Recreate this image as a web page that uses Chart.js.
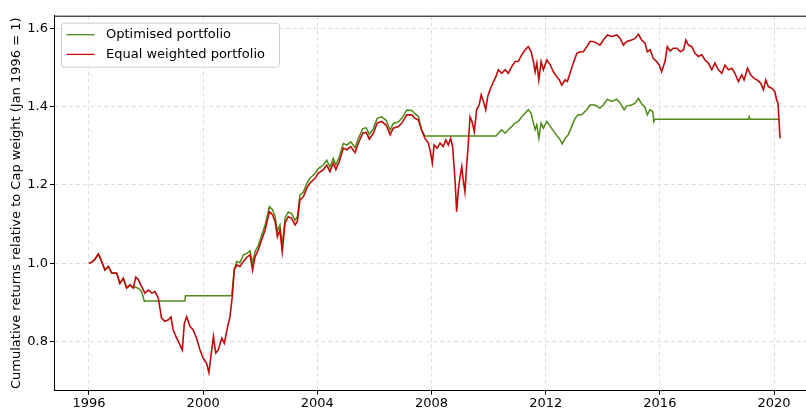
<!DOCTYPE html>
<html lang="en">
<head>
  <meta charset="UTF-8">
  <title>Cumulative returns relative to Cap weight</title>
  <script src="https://cdn.jsdelivr.net/npm/chart.js"></script>
  <style>
    body { margin: 0; padding: 0; background: #fff; }
    #wrap { width: 806px; height: 409px; position: relative; }
  </style>
</head>
<body>
  <div id="wrap"><canvas id="returnsChart"></canvas></div>
  <script>
    // Equal weighted portfolio (year, value)
    const equalYears = [1996.00, 1996.10, 1996.20, 1996.33, 1996.44, 1996.56, 1996.68, 1996.80, 1996.97, 1997.08, 1997.20, 1997.32, 1997.44, 1997.55, 1997.64, 1997.73, 1997.84, 1997.96, 1998.08, 1998.20, 1998.31, 1998.43, 1998.54, 1998.66, 1998.78, 1998.87, 1998.95, 1999.07, 1999.19, 1999.27, 1999.34, 1999.42, 1999.54, 1999.65, 1999.77, 1999.89, 2000.00, 2000.12, 2000.20, 2000.27, 2000.36, 2000.44, 2000.53, 2000.65, 2000.74, 2000.86, 2000.94, 2001.02, 2001.09, 2001.18, 2001.29, 2001.41, 2001.52, 2001.64, 2001.73, 2001.82, 2001.93, 2002.05, 2002.17, 2002.32, 2002.43, 2002.52, 2002.60, 2002.69, 2002.77, 2002.87, 2002.98, 2003.10, 2003.22, 2003.30, 2003.39, 2003.51, 2003.63, 2003.74, 2003.92, 2004.03, 2004.21, 2004.33, 2004.44, 2004.56, 2004.65, 2004.77, 2004.91, 2005.03, 2005.17, 2005.32, 2005.44, 2005.59, 2005.71, 2005.82, 2005.96, 2006.10, 2006.25, 2006.41, 2006.55, 2006.66, 2006.84, 2006.96, 2007.13, 2007.31, 2007.42, 2007.54, 2007.65, 2007.77, 2007.89, 2007.97, 2008.03, 2008.09, 2008.20, 2008.30, 2008.41, 2008.50, 2008.59, 2008.67, 2008.74, 2008.79, 2008.83, 2008.88, 2008.94, 2009.00, 2009.06, 2009.11, 2009.17, 2009.23, 2009.29, 2009.35, 2009.42, 2009.50, 2009.58, 2009.67, 2009.74, 2009.82, 2009.90, 2009.97, 2010.05, 2010.17, 2010.26, 2010.34, 2010.46, 2010.58, 2010.69, 2010.81, 2010.93, 2011.04, 2011.16, 2011.28, 2011.39, 2011.49, 2011.57, 2011.63, 2011.69, 2011.76, 2011.84, 2011.92, 2012.04, 2012.15, 2012.27, 2012.39, 2012.48, 2012.56, 2012.68, 2012.76, 2012.85, 2012.97, 2013.09, 2013.20, 2013.32, 2013.44, 2013.55, 2013.67, 2013.79, 2013.90, 2014.02, 2014.16, 2014.31, 2014.49, 2014.61, 2014.72, 2014.84, 2015.01, 2015.13, 2015.25, 2015.36, 2015.48, 2015.56, 2015.66, 2015.77, 2015.89, 2015.98, 2016.06, 2016.18, 2016.26, 2016.36, 2016.47, 2016.60, 2016.72, 2016.83, 2016.91, 2017.00, 2017.12, 2017.23, 2017.35, 2017.47, 2017.58, 2017.70, 2017.82, 2017.93, 2018.05, 2018.17, 2018.28, 2018.40, 2018.52, 2018.63, 2018.75, 2018.87, 2018.95, 2019.07, 2019.18, 2019.30, 2019.41, 2019.53, 2019.63, 2019.71, 2019.80, 2019.92, 2020.03, 2020.09, 2020.14, 2020.21];
    const equalValues = [1.000, 1.003, 1.010, 1.024, 1.005, 0.983, 0.992, 0.975, 0.975, 0.949, 0.962, 0.937, 0.945, 0.937, 0.965, 0.958, 0.941, 0.924, 0.932, 0.924, 0.928, 0.911, 0.860, 0.852, 0.856, 0.863, 0.830, 0.809, 0.792, 0.779, 0.847, 0.864, 0.839, 0.830, 0.809, 0.779, 0.758, 0.745, 0.721, 0.762, 0.813, 0.771, 0.779, 0.809, 0.796, 0.839, 0.864, 0.915, 0.983, 0.996, 0.992, 1.005, 1.015, 1.022, 0.983, 1.017, 1.034, 1.060, 1.085, 1.132, 1.124, 1.107, 1.068, 1.085, 1.030, 1.103, 1.119, 1.115, 1.098, 1.107, 1.162, 1.170, 1.192, 1.205, 1.217, 1.230, 1.239, 1.251, 1.234, 1.256, 1.239, 1.260, 1.294, 1.290, 1.298, 1.283, 1.307, 1.332, 1.334, 1.317, 1.332, 1.358, 1.362, 1.353, 1.328, 1.345, 1.349, 1.358, 1.379, 1.379, 1.370, 1.366, 1.341, 1.319, 1.307, 1.281, 1.256, 1.302, 1.294, 1.307, 1.298, 1.315, 1.302, 1.319, 1.298, 1.247, 1.205, 1.132, 1.188, 1.221, 1.247, 1.213, 1.183, 1.247, 1.307, 1.374, 1.362, 1.336, 1.392, 1.404, 1.430, 1.413, 1.392, 1.426, 1.443, 1.464, 1.477, 1.494, 1.485, 1.494, 1.485, 1.502, 1.515, 1.515, 1.532, 1.545, 1.553, 1.540, 1.515, 1.489, 1.511, 1.468, 1.515, 1.494, 1.519, 1.508, 1.489, 1.476, 1.468, 1.455, 1.468, 1.464, 1.485, 1.511, 1.536, 1.540, 1.540, 1.553, 1.566, 1.566, 1.562, 1.557, 1.570, 1.583, 1.579, 1.583, 1.574, 1.557, 1.566, 1.570, 1.574, 1.585, 1.570, 1.562, 1.540, 1.545, 1.523, 1.515, 1.506, 1.489, 1.515, 1.553, 1.542, 1.549, 1.549, 1.540, 1.545, 1.570, 1.557, 1.553, 1.536, 1.528, 1.532, 1.519, 1.511, 1.494, 1.511, 1.494, 1.485, 1.506, 1.494, 1.498, 1.485, 1.464, 1.481, 1.468, 1.498, 1.481, 1.472, 1.468, 1.460, 1.443, 1.468, 1.451, 1.447, 1.438, 1.417, 1.409, 1.319];

    // Optimised portfolio (year, value)
    const optYears = [1996.00, 1996.10, 1996.20, 1996.33, 1996.44, 1996.56, 1996.68, 1996.80, 1996.97, 1997.08, 1997.20, 1997.32, 1997.44, 1997.55, 1997.60, 1997.70, 1997.80, 1997.86, 1997.94, 1997.97, 1999.36, 1999.38, 2001.00, 2001.09, 2001.18, 2001.29, 2001.41, 2001.52, 2001.64, 2001.73, 2001.82, 2001.93, 2002.05, 2002.17, 2002.32, 2002.43, 2002.52, 2002.60, 2002.69, 2002.77, 2002.87, 2002.98, 2003.10, 2003.22, 2003.30, 2003.39, 2003.51, 2003.63, 2003.74, 2003.92, 2004.03, 2004.21, 2004.33, 2004.44, 2004.56, 2004.65, 2004.77, 2004.91, 2005.03, 2005.17, 2005.32, 2005.44, 2005.59, 2005.71, 2005.82, 2005.96, 2006.10, 2006.25, 2006.41, 2006.55, 2006.66, 2006.84, 2006.96, 2007.13, 2007.31, 2007.42, 2007.54, 2007.65, 2007.77, 2010.26, 2010.34, 2010.46, 2010.58, 2010.69, 2010.81, 2010.93, 2011.04, 2011.16, 2011.28, 2011.39, 2011.49, 2011.57, 2011.63, 2011.69, 2011.76, 2011.84, 2011.92, 2012.04, 2012.15, 2012.27, 2012.39, 2012.48, 2012.58, 2012.68, 2012.79, 2012.91, 2013.03, 2013.14, 2013.26, 2013.44, 2013.55, 2013.73, 2013.90, 2014.02, 2014.16, 2014.31, 2014.49, 2014.61, 2014.75, 2014.84, 2015.01, 2015.13, 2015.25, 2015.36, 2015.48, 2015.56, 2015.66, 2015.75, 2015.79, 2015.82, 2019.10, 2019.13, 2019.16, 2020.19];
    const optValues = [1.000, 1.003, 1.010, 1.024, 1.005, 0.983, 0.992, 0.975, 0.975, 0.949, 0.962, 0.937, 0.945, 0.937, 0.940, 0.937, 0.932, 0.924, 0.903, 0.904, 0.904, 0.917, 0.917, 0.985, 1.005, 1.002, 1.022, 1.025, 1.032, 1.000, 1.030, 1.045, 1.072, 1.097, 1.145, 1.137, 1.120, 1.082, 1.098, 1.045, 1.116, 1.131, 1.127, 1.110, 1.119, 1.174, 1.182, 1.204, 1.217, 1.229, 1.242, 1.251, 1.263, 1.246, 1.268, 1.251, 1.272, 1.306, 1.302, 1.310, 1.295, 1.319, 1.344, 1.346, 1.329, 1.344, 1.370, 1.374, 1.365, 1.340, 1.357, 1.361, 1.370, 1.391, 1.390, 1.382, 1.375, 1.340, 1.325, 1.325, 1.332, 1.341, 1.332, 1.341, 1.349, 1.358, 1.362, 1.374, 1.383, 1.392, 1.383, 1.358, 1.341, 1.354, 1.319, 1.358, 1.345, 1.362, 1.351, 1.338, 1.326, 1.318, 1.305, 1.319, 1.328, 1.349, 1.370, 1.379, 1.379, 1.392, 1.404, 1.404, 1.396, 1.404, 1.419, 1.413, 1.419, 1.409, 1.392, 1.402, 1.404, 1.409, 1.421, 1.407, 1.398, 1.379, 1.392, 1.387, 1.362, 1.368, 1.368, 1.374, 1.368, 1.368];

    const xTicks = [1996, 2000, 2004, 2008, 2012, 2016, 2020];
    const yTicks = [0.8, 1.0, 1.2, 1.4, 1.6];
    const seriesNames = ['Optimised portfolio', 'Equal weighted portfolio'];
    const seriesColors = ['#4f8a17', '#c20a0a'];

    const toPoints = (xs, ys) => xs.map((x, i) => ({ x: x, y: ys[i] }));
    const FONT = 'DejaVu Sans, sans-serif';

    // box legend drawn inside the plot, top left, like the original
    const insideLegend = {
      id: 'insideLegend',
      afterDatasetsDraw(chart) {
        const ctx = chart.ctx;
        const a = chart.chartArea;
        const x = a.left + 7.5, y = a.top + 7.5, w = 218, h = 44, r = 3;
        ctx.save();
        ctx.beginPath();
        ctx.moveTo(x + r, y);
        ctx.arcTo(x + w, y, x + w, y + h, r);
        ctx.arcTo(x + w, y + h, x, y + h, r);
        ctx.arcTo(x, y + h, x, y, r);
        ctx.arcTo(x, y, x + w, y, r);
        ctx.closePath();
        ctx.fillStyle = 'rgba(255,255,255,0.8)';
        ctx.fill();
        ctx.strokeStyle = '#cccccc';
        ctx.lineWidth = 1;
        ctx.stroke();
        ctx.font = '13px ' + FONT;
        ctx.textBaseline = 'middle';
        ctx.fillStyle = '#000';
        seriesNames.forEach((name, i) => {
          const ly = y + 11.5 + i * 19.7;
          ctx.beginPath();
          ctx.moveTo(x + 5, ly);
          ctx.lineTo(x + 33, ly);
          ctx.strokeStyle = seriesColors[i];
          ctx.lineWidth = 1.3;
          ctx.stroke();
          ctx.fillText(name, x + 44.5, ly);
        });
        ctx.restore();
      }
    };

    // top spine
    const frame = {
      id: 'frame',
      afterDraw(chart) {
        const ctx = chart.ctx;
        const a = chart.chartArea;
        ctx.save();
        ctx.strokeStyle = '#000';
        ctx.lineWidth = 1;
        ctx.beginPath();
        ctx.moveTo(a.left, a.top + 0.5);
        ctx.lineTo(a.right, a.top + 0.5);
        ctx.stroke();
        ctx.restore();
      }
    };

    new Chart(document.getElementById('returnsChart'), {
      type: 'line',
      data: {
        datasets: [
          { label: seriesNames[0], data: toPoints(optYears, optValues), borderColor: seriesColors[0], borderWidth: 1.5, pointRadius: 0, tension: 0, order: 2 },
          { label: seriesNames[1], data: toPoints(equalYears, equalValues), borderColor: seriesColors[1], borderWidth: 1.6, pointRadius: 0, tension: 0, order: 1 }
        ]
      },
      options: {
        responsive: true,
        maintainAspectRatio: false,
        animation: false,
        layout: { padding: { top: 15.7, right: 0, left: 0, bottom: 0 } },
        plugins: { legend: { display: false }, tooltip: { enabled: false } },
        scales: {
          x: {
            type: 'linear',
            min: 1994.774,
            max: 2021.12,
            afterBuildTicks: s => { s.ticks = xTicks.map(v => ({ value: v })); },
            afterFit: s => { s.height = 18.3; },
            ticks: { color: '#000', font: { family: FONT, size: 13 }, padding: 1, maxRotation: 0, callback: v => String(v) },
            grid: { color: '#dddddd', tickColor: '#000', tickLength: 4 },
            border: { display: true, color: '#000', width: 1, dash: [4, 3] }
          },
          y: {
            min: 0.675,
            max: 1.632,
            afterBuildTicks: s => { s.ticks = yTicks.map(v => ({ value: v })); },
            afterFit: s => { s.width = 54; },
            ticks: { color: '#000', font: { family: FONT, size: 13 }, padding: 2, callback: v => v.toFixed(1) },
            grid: { color: '#dddddd', tickColor: '#000', tickLength: 4 },
            border: { display: true, color: '#000', width: 1, dash: [4, 3] },
            title: { display: true, text: 'Cumulative returns relative to Cap weight (Jan 1996 = 1)', color: '#000', font: { family: FONT, size: 13 }, padding: { top: 9, bottom: 0 } }
          }
        }
      },
      plugins: [insideLegend, frame]
    });
  </script>
</body>
</html>
